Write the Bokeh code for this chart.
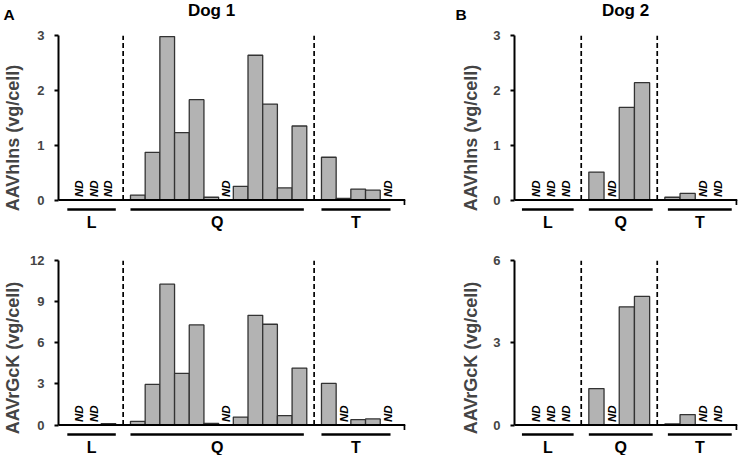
import math
from bokeh.plotting import figure
from bokeh.models import LinearAxis, FixedTicker, Span, Range1d
from bokeh.layouts import row, column
from bokeh.embed import file_html
from bokeh.resources import INLINE
from bokeh.core.properties import value

ND = None  # not detected

# ---------------- data (vg/cell) ----------------
groups = ["L", "Q", "T"]

dog1_L_hins = [ND, ND, ND]
dog1_Q_hins = [0.09, 0.87, 2.98, 1.23, 1.83, 0.05, ND, 0.25, 2.64, 1.75, 0.22, 1.35]
dog1_T_hins = [0.78, 0.03, 0.20, 0.18, ND]

dog1_L_gck = [ND, ND, 0.10]
dog1_Q_gck = [0.27, 2.96, 10.27, 3.76, 7.30, 0.12, ND, 0.58, 8.00, 7.35, 0.68, 4.15]
dog1_T_gck = [3.03, ND, 0.39, 0.44, ND]

dog2_L_hins = [ND, ND, ND]
dog2_Q_hins = [0.51, ND, 1.69, 2.14]
dog2_T_hins = [0.05, 0.12, ND, ND]

dog2_L_gck = [ND, ND, ND]
dog2_Q_gck = [1.33, ND, 4.31, 4.69]
dog2_T_gck = [0.04, 0.38, ND, ND]

hins_ticks = [0, 1, 2, 3]
dog1_gck_ticks = [0, 3, 6, 9, 12]
dog2_gck_ticks = [0, 3, 6]

# extent of the group underlines, in slot units
dog1_group_spans = [(-0.8, 2.5), (3.5, 15.3), (16.5, 21.2)]
dog2_group_spans = [(-0.9, 2.5), (3.5, 7.7), (8.7, 12.9)]

panel_letters = ["A", "B"]
dog_titles = ["Dog 1", "Dog 2"]

# ---------------- style ----------------
FONT = "Liberation Sans"
BAR_FILL = "#b3b3b3"
BAR_LINE = "#333333"
PLOT_PX = 164.5    # pixels from y=0 to y=max


def build_slots(L, Q, T):
    xs, vals, gaps = [], [], []
    pos = 0
    for i, grp in enumerate([L, Q, T]):
        for v in grp:
            xs.append(pos)
            vals.append(v)
            pos += 1
        if i < 2:
            gaps.append(pos)
            pos += 1
    return xs, vals, gaps


def make_header(width, letter, title, letter_x, title_x):
    h = 22
    p = figure(width=width, height=h, output_backend="svg", toolbar_location=None,
               x_range=Range1d(0, width), y_range=Range1d(h, 0),
               x_axis_type=None, y_axis_type=None,
               min_border_left=0, min_border_right=0, min_border_top=0, min_border_bottom=0)
    p.outline_line_color = None
    p.grid.visible = False
    p.text(x=[letter_x], y=[14], text=[letter], text_align="left", text_baseline="middle",
           text_font=value(FONT), text_font_style="bold", text_font_size="15.5px",
           text_color="black")
    p.text(x=[title_x], y=[9.5], text=[title], text_align="center", text_baseline="middle",
           text_font=value(FONT), text_font_style="bold", text_font_size="17px",
           text_color="black")
    return p


def make_panel(L, Q, T, ticks, ylabel, spans, width, height, b_left, b_right,
               b_top, x_start, x_end, lab_standoff):
    ymax = ticks[-1]
    frame_h = height - b_top
    dy = ymax / PLOT_PX
    y_start = -(frame_h - PLOT_PX) * dy

    p = figure(width=width, height=height, output_backend="svg", toolbar_location=None,
               x_range=Range1d(x_start, x_end), y_range=Range1d(y_start, ymax),
               x_axis_type=None, y_axis_type=None,
               min_border_left=b_left, min_border_right=b_right,
               min_border_top=b_top, min_border_bottom=0)
    p.outline_line_color = None
    p.grid.visible = False
    p.background_fill_color = "white"
    p.border_fill_color = "white"

    ax = LinearAxis(bounds=(0, ymax), ticker=FixedTicker(ticks=ticks))
    ax.axis_line_width = 2
    ax.major_tick_line_width = 2
    ax.major_tick_out = 4
    ax.major_tick_in = 0
    ax.minor_tick_out = 0
    ax.minor_tick_in = 0
    ax.major_label_text_font = FONT
    ax.major_label_text_font_style = "bold"
    ax.major_label_text_font_size = "13px"
    ax.major_label_standoff = 10
    ax.axis_label = ylabel
    ax.axis_label_text_font = FONT
    ax.axis_label_text_font_style = "bold"
    ax.axis_label_text_font_size = "18px"
    ax.axis_label_standoff = lab_standoff
    p.add_layout(ax, "left")

    xs, vals, gaps = build_slots(L, Q, T)
    bx = [x for x, v in zip(xs, vals) if v is not None]
    bv = [v for v in vals if v is not None]
    ndx = [x for x, v in zip(xs, vals) if v is None]

    # x axis line at zero, with its end tick
    p.add_layout(Span(location=0, dimension="width", line_color="black", line_width=2))
    p.segment(x0=[x_end - 0.06], x1=[x_end - 0.06], y0=[0], y1=[-5 * dy],
              line_color="black", line_width=2)

    # dashed separators
    p.segment(x0=gaps, x1=gaps, y0=[0] * len(gaps), y1=[ymax] * len(gaps),
              line_color="black", line_width=1.7, line_dash="5 3")

    p.vbar(x=bx, top=bv, bottom=0, width=1.0, fill_color=BAR_FILL,
           line_color=BAR_LINE, line_width=1.3)

    p.text(x=ndx, y=[0] * len(ndx), text=["ND"] * len(ndx), angle=math.pi / 2,
           text_align="left", text_baseline="middle", y_offset=-3,
           text_font=value(FONT), text_font_style="bold italic",
           text_font_size="11.5px", text_color="black")

    # group underlines + labels
    s0 = [a for a, b in spans]
    s1 = [b for a, b in spans]
    mids = [(a + b) / 2 for a, b in spans]
    p.segment(x0=s0, x1=s1, y0=[-9.5 * dy] * 3, y1=[-9.5 * dy] * 3,
              line_color="black", line_width=2.5)
    p.text(x=mids, y=[-22 * dy] * 3, text=groups, text_align="center",
           text_baseline="middle", text_font=value(FONT), text_font_style="bold",
           text_font_size="16px", text_color="black")
    return p


h1 = make_header(445, panel_letters[0], dog_titles[0], 3, 211)
h2 = make_header(295, panel_letters[1], dog_titles[1], 10, 180)

p1 = make_panel(dog1_L_hins, dog1_Q_hins, dog1_T_hins, hins_ticks, "AAVhIns (vg/cell)",
                dog1_group_spans, 445, 218, 53, 40, 13, -1.40, 22.22, 11)
p2 = make_panel(dog1_L_gck, dog1_Q_gck, dog1_T_gck, dog1_gck_ticks, "AAVrGcK (vg/cell)",
                dog1_group_spans, 445, 215, 53, 40, 20, -1.40, 22.22, 4)
p3 = make_panel(dog2_L_hins, dog2_Q_hins, dog2_T_hins, hins_ticks, "AAVhIns (vg/cell)",
                dog2_group_spans, 295, 218, 69, 3, 13, -1.39, 13.28, 9)
p4 = make_panel(dog2_L_gck, dog2_Q_gck, dog2_T_gck, dog2_gck_ticks, "AAVrGcK (vg/cell)",
                dog2_group_spans, 295, 215, 69, 3, 20, -1.39, 13.28, 9)

layout = column(row(h1, h2), row(p1, p3), row(p2, p4))
open("out.html", "w").write(file_html(layout, INLINE))
